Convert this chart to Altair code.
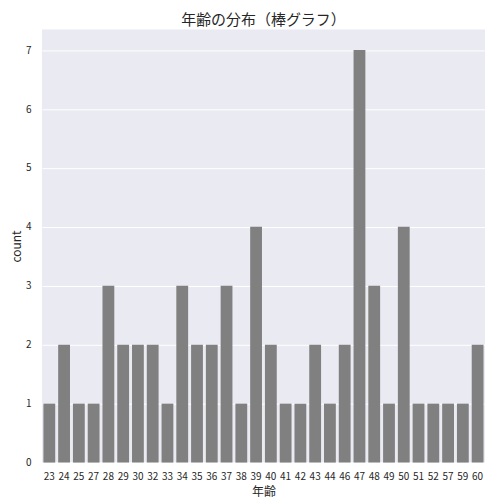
import altair as alt
import pandas as pd

ages = ["23", "24", "25", "27", "28", "29", "30", "32", "33", "34", "35", "36", "37", "38", "39",
        "40", "41", "42", "43", "44", "46", "47", "48", "49", "50", "51", "52", "57", "59", "60"]
counts = [1, 2, 1, 1, 3, 2, 2, 2, 1, 3, 2, 2, 3, 1, 4,
          2, 1, 1, 2, 1, 2, 7, 3, 1, 4, 1, 1, 1, 1, 2]

df = pd.DataFrame({"age": ages, "count": counts})
FONT = "Noto Sans CJK JP"

chart = alt.Chart(df).mark_bar(color="#808080").encode(
    x=alt.X("age:N", sort=ages, title="年齢",
            scale=alt.Scale(paddingInner=0.2, paddingOuter=0.1),
            axis=alt.Axis(labelAngle=0, labelFontSize=10, titleFontSize=12,
                          labelPadding=9, titlePadding=5, grid=False,
                          domain=False, ticks=False, labelColor="#262626",
                          titleColor="#262626", labelFont=FONT, titleFont=FONT,
                          titleFontWeight="normal", labelOverlap=False)),
    y=alt.Y("count:Q", title="count",
            scale=alt.Scale(domain=[0, 7.35], nice=False),
            axis=alt.Axis(values=[0, 1, 2, 3, 4, 5, 6, 7], labelFontSize=10,
                          titleFontSize=12, labelPadding=11, titlePadding=2,
                          grid=True, gridColor="white", gridWidth=1,
                          domain=False, ticks=False, labelColor="#262626",
                          titleColor="#262626", labelFont=FONT, titleFont=FONT,
                          titleFontWeight="normal")),
).properties(
    width=478, height=491,
    padding={"left": 2, "top": 5, "right": 0, "bottom": 1},
    autosize=alt.AutoSizeParams(type="fit", contains="padding"),
    view=alt.ViewBackground(fill="#EAEAF2", strokeWidth=0),
    title=alt.TitleParams("年齢の分布（棒グラフ）", fontSize=15, font=FONT,
                          fontWeight="normal", color="#262626", offset=1),
).configure(background="white")

chart.save("out.html", embed_options={"renderer": "svg", "actions": False})
